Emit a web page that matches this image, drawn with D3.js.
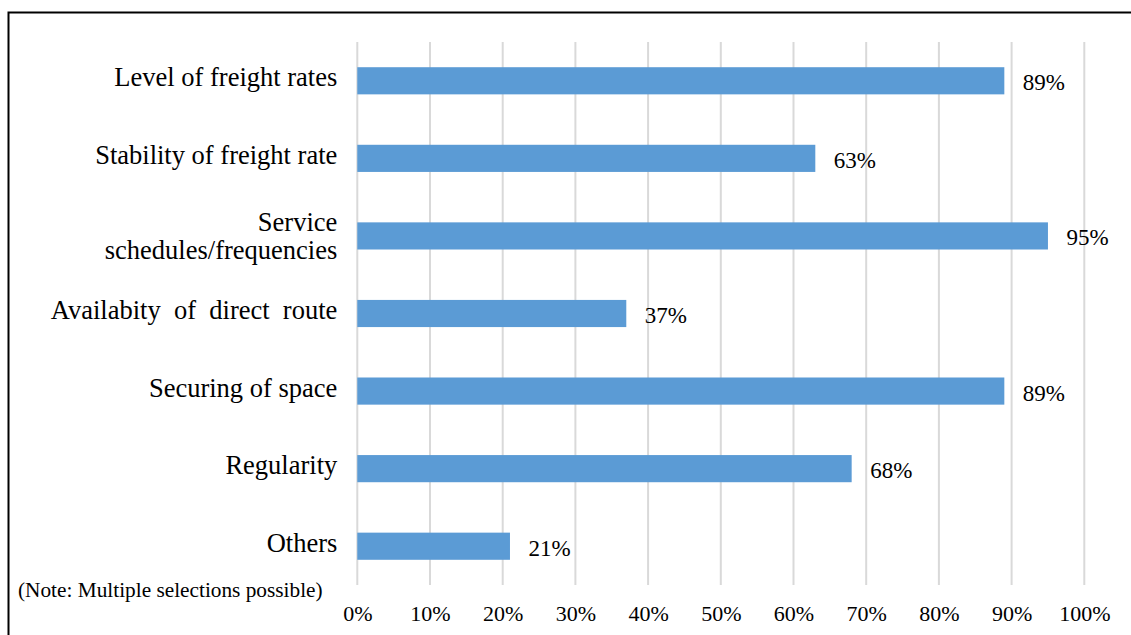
<!DOCTYPE html>
<html>
<head>
<meta charset="utf-8">
<script src="https://cdn.jsdelivr.net/npm/d3@7/dist/d3.min.js"></script>
<style>
  html, body { margin: 0; padding: 0; background: #fff; }
  svg { display: block; }
  svg text { font-family: "Liberation Serif", "Times New Roman", serif; }
</style>
</head>
<body>
<svg id="chart" width="1131" height="635"></svg>
<script>
// Survey factors and share of respondents selecting each one
const categories = [
  "Level of freight rates",
  "Stability of freight rate",
  "Service|schedules/frequencies",
  "Availabity  of  direct  route",
  "Securing of space",
  "Regularity",
  "Others"
];
const values = [89, 63, 95, 37, 89, 68, 21];
const tickValues = [0, 10, 20, 30, 40, 50, 60, 70, 80, 90, 100];
const note = "(Note: Multiple selections possible)";

const FONT = "Liberation Serif, Times New Roman, serif";
const svg = d3.select("#chart");

// Outer frame
svg.append("rect")
  .attr("x", 8.5).attr("y", 12.5)
  .attr("width", 1140).attr("height", 640)
  .attr("fill", "none").attr("stroke", "#000").attr("stroke-width", 2);

const plot = { left: 357.3, right: 1084.3, top: 42, bottom: 585 };

const x = d3.scaleLinear().domain([0, 100]).range([plot.left, plot.right]);
const y = d3.scaleBand().domain(categories).range([plot.top, plot.bottom]).paddingInner(0.65).paddingOuter(0.325);

// Vertical gridlines
svg.append("g")
  .selectAll("line")
  .data(tickValues)
  .join("line")
  .attr("x1", d => x(d)).attr("x2", d => x(d))
  .attr("y1", plot.top).attr("y2", plot.bottom)
  .attr("stroke", "#d9d9d9").attr("stroke-width", 2);

// Bottom axis labels
const xAxis = d3.axisBottom(x).tickValues(tickValues).tickFormat(d => d + "%").tickSize(0).tickPadding(0);
const gx = svg.append("g").attr("transform", `translate(0, 621)`).call(xAxis);
gx.select(".domain").remove();
gx.selectAll("text")
  .attr("font-family", FONT)
  .attr("font-size", 22).attr("fill", "#000").attr("y", 0).attr("dy", 0);

// Bars
svg.append("g")
  .selectAll("rect")
  .data(values)
  .join("rect")
  .attr("x", x(0))
  .attr("y", (d, i) => y(categories[i]))
  .attr("width", d => x(d) - x(0))
  .attr("height", y.bandwidth())
  .attr("fill", "#5b9bd5");

// Value labels
svg.append("g")
  .selectAll("text")
  .data(values)
  .join("text")
  .attr("x", d => x(d) + 18.5)
  .attr("y", (d, i) => y(categories[i]) + y.bandwidth() / 2 + 9.5)
  .attr("font-family", FONT)
  .attr("font-size", 23)
  .attr("fill", "#000")
  .text(d => d + "%");

// Category labels (a "|" marks a line break)
const cat = svg.append("g")
  .selectAll("text")
  .data(categories)
  .join("text")
  .attr("x", plot.left - 20)
  .attr("text-anchor", "end")
  .attr("font-family", FONT)
  .attr("font-size", 26.5)
  .attr("fill", "#000")
  .attr("xml:space", "preserve")
  .style("white-space", "pre")
  .attr("y", d => y(d) + y.bandwidth() / 2);

cat.each(function(d) {
  const lines = d.split("|");
  const t = d3.select(this);
  const lh = 28.6;
  const start = lines.length > 1 ? -5.3 : 5.6;
  lines.forEach((ln, j) => {
    t.append("tspan")
      .attr("x", plot.left - 20)
      .attr("dy", j === 0 ? start : lh)
      .text(ln);
  });
});

// Note
svg.append("text")
  .attr("x", 18).attr("y", 597)
  .attr("font-family", FONT)
  .attr("font-size", 21.3)
  .attr("fill", "#000")
  .text(note);
</script>
</body>
</html>
